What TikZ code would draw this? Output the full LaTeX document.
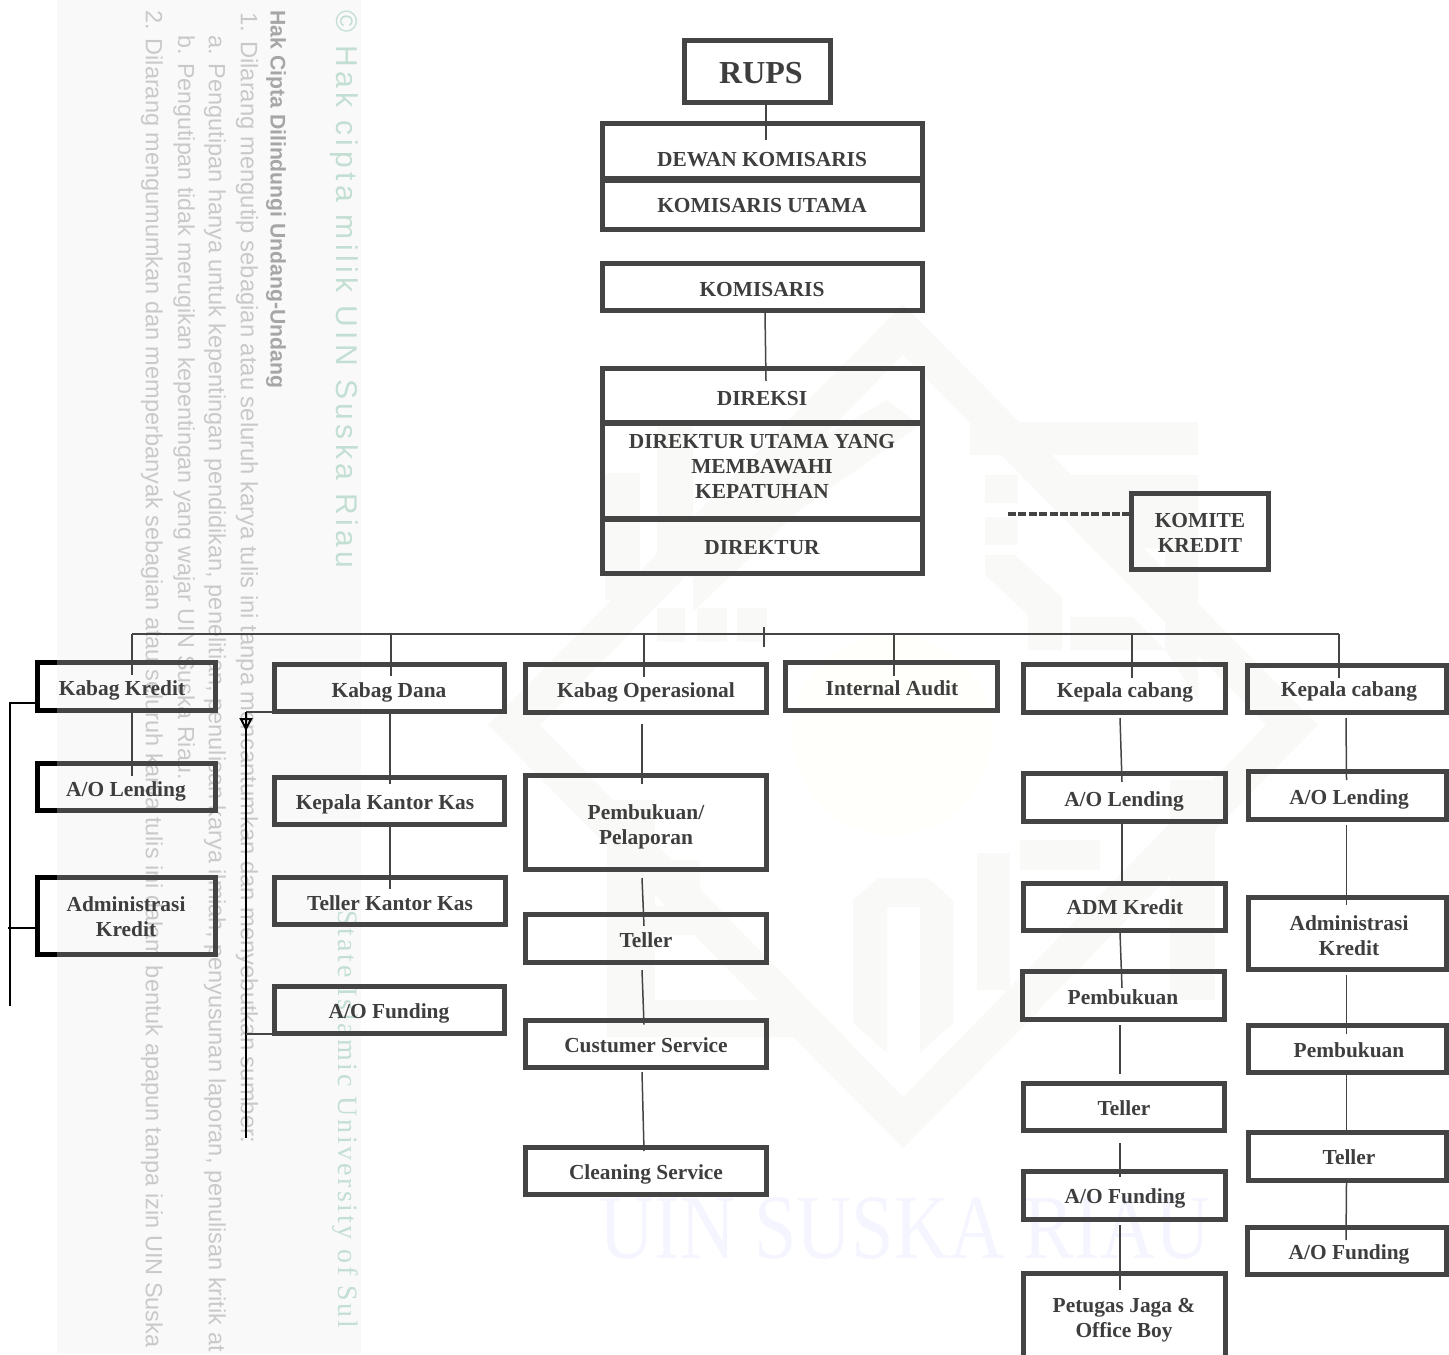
\documentclass[tikz,border=0pt]{standalone}
\usepackage{fontspec}
\setmainfont{Liberation Serif}
\newfontfamily\wmsans{Liberation Sans}
\newfontfamily\wmspaced[LetterSpace=15]{Liberation Sans}
\newfontfamily\wmserif[LetterSpace=10]{Liberation Serif}
\usetikzlibrary{arrows.meta}
\definecolor{ink}{HTML}{444444}
\definecolor{txt}{HTML}{3E3E3E}
\definecolor{panelc}{HTML}{F9F9F9}
\definecolor{logoc}{HTML}{F9F9F7}
\definecolor{wmgray}{HTML}{C9C9C9}
\definecolor{wmgreen}{HTML}{C3DFD3}
\tikzset{
  boxst/.style={draw=ink,line width=2.5pt,inner sep=0pt,outer sep=0pt,text=txt,
    font=\fontsize{10.7}{12.5}\selectfont\bfseries,line join=miter},
  conn/.style={draw=ink,line width=0.75pt},
  bracket/.style={draw=black,line width=1pt},
  edge black/.style={draw=black,line width=2.5pt,line join=miter},
  wmline/.style={rotate=-90,anchor=west,inner sep=0pt,text=wmgray,font=\fontsize{11.75}{13}\selectfont\wmsans},
  logo/.style={fill=logoc,draw=none}
}
\newcommand{\bx}[8]{%
  \pgfmathsetmacro{\bxw}{(#4-#2-5)*0.5}%
  \pgfmathsetmacro{\bxh}{(#5-#3-5)*0.5}%
  \pgfmathsetmacro{\bxcx}{(#2+#4)/2}%
  \pgfmathsetmacro{\bxcy}{(#3+#5)/2}%
  \pgfmathsetmacro{\bxdx}{#6-\bxcx}%
  \pgfmathsetmacro{\bxr}{(\bxcy-#7)*0.5-4.1}%
  \node[boxst,minimum width=\bxw pt,minimum height=\bxh pt] (#1) at (\bxcx,\bxcy)
    {\hspace*{\bxdx pt}\raisebox{\bxr pt}[0pt][0pt]{\begin{tabular}{@{}c@{}}#8\end{tabular}}};}
\newcommand{\cn}[6]{\draw[conn] ([shift={(#2,#3)}]#1) -- ([shift={(#5,#6)}]#4);}
\begin{document}
\begin{tikzpicture}[x=0.5pt,y=-0.5pt]
\useasboundingbox (0,0) rectangle (1449,1354);
\clip (0,0) rectangle (1449,1354);
% logo watermark
\fill[logo,even odd rule] (903,304) -- (1318,725) -- (903,1148) -- (488,725) -- cycle
  (903,355) -- (1266,725) -- (903,1097) -- (540,725) -- cycle;
\fill[logo] (970,422) rectangle (1198,455);
\fill[logo] (1052,475) -- (1198,475) -- (1198,700) -- (1165,650) -- (1165,548) -- (1100,548) -- (1052,500) -- cycle;
\fill[logo] (985,475) rectangle (1018,503);
\fill[logo] (985,517) rectangle (1018,545);
\fill[logo] (985,555) -- (1015,555) -- (1062,597) -- (1062,650) -- (1028,650) -- (1028,615) -- (985,575) -- cycle;
\fill[logo] (1070,617) -- (1133,617) -- (1165,650) -- (1070,650) -- cycle;
\fill[logo] (657,427) rectangle (693,577);
\fill[logo] (605,473) rectangle (640,600);
\fill[logo] (693,560) -- (800,450) -- (887,400) -- (920,425) -- (800,510) -- (693,612) -- cycle;
\fill[logo] (657,608) rectangle (685,642);
\fill[logo] (697,608) rectangle (727,642);
\fill[logo] (737,608) rectangle (767,642);
\fill[logo] (607,800) rectangle (655,1000);
\fill[logo] (655,860) rectangle (700,890);
\fill[logo] (655,906) rectangle (700,935);
\fill[logo] (607,1000) -- (795,1000) -- (835,1037) -- (793,1037) -- (607,1037) -- cycle;
\fill[logo] (793,1037) -- (903,1148) -- (1040,1010) -- (1000,1000) -- (903,1097) -- (835,1037) -- cycle;
\fill[logo] (853,900) -- (878,878) -- (928,878) -- (953,900) -- (953,1023) -- (920,1053) -- (920,907) -- (887,907) -- (887,1053) -- (853,1023) -- cycle;
\fill[logo] (977,853) rectangle (1010,990);
\fill[logo] (1020,840) -- (1100,840) -- (1100,870) -- (1020,870) -- cycle;
\fill[logo] (1170,780) rectangle (1215,1000);
\fill[fill=yellow!1.5] (892,735) circle (100);
\node[inner sep=0pt,text=blue!4,font=\fontsize{46}{50}\selectfont] (wmuin) at (905,1228) {\scalebox{.83}[1]{UIN SUSKA RIAU}};
% side panel
\fill[panelc] (57,0) rectangle (361,1354);
\node[wmline,text=wmgreen,font=\fontsize{15}{17}\selectfont\wmspaced] (wm0) at (344,10) {© Hak cipta milik UIN Suska Riau};
\node[wmline,text=wmgreen,font=\fontsize{14}{16}\selectfont\wmserif] (wm6) at (345,910) {State Islamic University of Sul};
\node[wmline,text=black!35,font=\fontsize{10.6}{12}\selectfont\wmsans\bfseries] (wm1) at (276,10) {Hak Cipta Dilindungi Undang-Undang};
\node[wmline,font=\fontsize{11.9}{13}\selectfont\wmsans] (wm2) at (247,12) {1. Dilarang mengutip sebagian atau seluruh karya tulis ini tanpa mencantumkan dan menyebutkan sumber:};
\node[wmline] (wm3) at (215,35) {a. Pengutipan hanya untuk kepentingan pendidikan, penelitian, penulisan karya ilmiah, penyusunan laporan, penulisan kritik at};
\node[wmline,font=\fontsize{11.6}{13}\selectfont\wmsans] (wm4) at (184,35) {b. Pengutipan tidak merugikan kepentingan yang wajar UIN Suska Riau.};
\node[wmline] (wm5) at (152,10) {2. Dilarang mengumumkan dan memperbanyak sebagian atau seluruh karya tulis ini dalam bentuk apapun tanpa izin UIN Suska};
% upper boxes
\bx{rups}{682}{38}{833}{105}{761}{74}{\fontsize{16}{18}\selectfont RUPS}
\bx{dewan}{600}{121}{925}{181}{762}{159}{DEWAN KOMISARIS}
\bx{kutama}{600}{178}{925}{232}{762}{205}{KOMISARIS UTAMA}
\bx{komis}{600}{261}{925}{313}{762}{289}{KOMISARIS}
\bx{direksi}{600}{366}{925}{425}{762}{398}{DIREKSI}
\bx{dirut}{600}{421}{925}{521}{762}{466}{DIREKTUR UTAMA YANG\\MEMBAWAHI\\KEPATUHAN}
\bx{direktur}{600}{517}{925}{576}{762}{547}{DIREKTUR}
\bx{komite}{1129}{491}{1271}{572}{1200}{532}{KOMITE\\KREDIT}
% left column
\bx{kredit}{35}{660}{218}{713}{122}{688}{Kabag Kredit}
\bx{lendL}{35}{761}{218}{813}{126}{789}{A/O Lending}
\bx{admL}{35}{875}{218}{957}{126}{916}{Administrasi\\Kredit}
% dana column
\bx{dana}{272}{662}{507}{714}{389}{690}{Kabag Dana}
\bx{kantor}{272}{775}{507}{827}{385}{802}{Kepala Kantor Kas}
\bx{tkk}{272}{875}{508}{927}{390}{903}{Teller Kantor Kas}
\bx{fundD}{272}{984}{507}{1036}{389}{1011}{A/O Funding}
% operasional column
\bx{oper}{523}{662}{769}{715}{646}{690}{Kabag Operasional}
\bx{pemO}{523}{773}{769}{872}{646}{824}{Pembukuan/\\Pelaporan}
\bx{telO}{523}{912}{769}{965}{646}{940}{Teller}
\bx{cust}{523}{1018}{769}{1070}{646}{1045}{Custumer Service}
\bx{clean}{523}{1145}{769}{1197}{646}{1172}{Cleaning Service}
% audit
\bx{audit}{783}{660}{1000}{713}{892}{688}{Internal Audit}
% cabang 1
\bx{kcA}{1021}{662}{1228}{715}{1125}{690}{Kepala cabang}
\bx{lendA}{1021}{771}{1228}{824}{1124}{799}{A/O Lending}
\bx{admA}{1021}{881}{1228}{933}{1125}{907}{ADM Kredit}
\bx{pemA}{1020}{969}{1227}{1022}{1123}{997}{Pembukuan}
\bx{telA}{1021}{1081}{1227}{1133}{1124}{1108}{Teller}
\bx{fundA}{1021}{1169}{1228}{1222}{1125}{1196}{A/O Funding}
\bx{petugas}{1021}{1271}{1228}{1361}{1124}{1317}{Petugas Jaga \&\\Office Boy}
% cabang 2
\bx{kcB}{1245}{663}{1449}{715}{1349}{689}{Kepala cabang}
\bx{lendB}{1246}{769}{1449}{822}{1349}{797}{A/O Lending}
\bx{admB}{1246}{895}{1449}{972}{1349}{935}{Administrasi\\Kredit}
\bx{pemB}{1246}{1023}{1449}{1075}{1349}{1050}{Pembukuan}
\bx{telB}{1246}{1130}{1449}{1183}{1349}{1157}{Teller}
\bx{fundB}{1245}{1225}{1449}{1277}{1349}{1252}{A/O Funding}
% black parts of left boxes outside the panel
\draw[edge black] ([shift={(19.5,0)}]kredit.north west) -- (kredit.north west) -- (kredit.south west) -- ([shift={(19.5,0)}]kredit.south west);
\draw[edge black] ([shift={(19.5,0)}]lendL.north west) -- (lendL.north west) -- (lendL.south west) -- ([shift={(19.5,0)}]lendL.south west);
\draw[edge black] ([shift={(19.5,0)}]admL.north west) -- (admL.north west) -- (admL.south west) -- ([shift={(19.5,0)}]admL.south west);
% connectors upper
\cn{rups.south}{8.5}{2.5}{dewan.north}{3.5}{16.5}
\cn{komis.south}{2.5}{2.5}{direksi.north}{3.5}{12.5}
\coordinate (dashend) at (1008,514);
\draw[draw=ink,line width=1.75pt,dash pattern=on 4pt off 1.2pt] (dashend) -- ([shift={(-2.5,-17.5)}]komite.west);
% bus
\coordinate (busL) at (132,634);
\coordinate (busR) at (1339,634);
\coordinate (busA) at (391,634);
\coordinate (busB) at (644,634);
\coordinate (busD) at (894,634);
\coordinate (busE) at (1132,634);
\coordinate (tickT) at (764,627);
\coordinate (tickB) at (764,647);
\draw[conn] (busL) -- (busR);
\draw[conn] (tickT) -- (tickB);
\draw[conn] (busL) -- ([shift={(5.5,12.5)}]kredit.north);
\draw[conn] (busA) -- ([shift={(1.5,11.5)}]dana.north);
\draw[conn] (busB) -- ([shift={(-2,12.5)}]oper.north);
\draw[conn] (busD) -- ([shift={(2.5,13.5)}]audit.north);
\draw[conn] (busE) -- ([shift={(7.5,13.5)}]kcA.north);
\draw[conn] (busR) -- ([shift={(-8,12.5)}]kcB.north);
% columns
\cn{kredit.south}{5.5}{2.5}{lendL.north}{5.5}{12.5}
\cn{dana.south}{.5}{2.5}{kantor.north}{.5}{6.5}
\cn{kantor.south}{.5}{2.5}{tkk.north}{0}{11.5}
\cn{oper.south}{-4}{11.5}{pemO.north}{-4}{8.5}
\cn{pemO.south}{-4}{8.5}{telO.north}{-2}{11.5}
\cn{telO.south}{-4}{7.5}{cust.north}{-2}{4}
\cn{cust.south}{-4}{4.5}{clean.north}{-2}{3.5}
\cn{kcA.south}{-4.5}{5.5}{lendA.north}{-2.5}{8.5}
\cn{lendA.south}{-2.5}{2.5}{admA.north}{-2.5}{0}
\cn{admA.south}{-4.5}{2.5}{pemA.north}{-1.5}{16.5}
\cn{pemA.south}{-3.5}{5.5}{telA.north}{-4}{-9.5}
\cn{telA.south}{-4}{12.5}{fundA.north}{-4.5}{5.5}
\cn{fundA.south}{-4.5}{5.5}{petugas.north}{-4.5}{16.5}
\cn{kcB.south}{-1}{5.5}{lendB.north}{-1}{8.5}
\cn{lendB.south}{-1}{5.5}{admB.north}{-1}{7.5}
\cn{admB.south}{-1}{5.5}{pemB.north}{-1}{8.5}
\cn{pemB.south}{-1}{2.5}{telB.north}{-1}{0}
\cn{telB.south}{-1}{2.5}{fundB.north}{-1}{12.5}
% brackets
\coordinate (brT) at (10,703);
\coordinate (brB) at (10,1006);
\coordinate (brA) at (8,928);
\draw[bracket] (brB) -- (brT) -- ([shift={(-2.5,16.5)}]kredit.west);
\draw[bracket] (brA) -- ([shift={(-2.5,12)}]admL.west);
\coordinate (drT) at (246,712);
\coordinate (drB) at (246,1138);
\coordinate (drM) at (246,1034);
\coordinate (drA) at (246,731);
\draw[bracket] (drB) -- (drT);
\draw[conn] (drT) -- ([shift={(-2.5,24)}]dana.west);
\draw[conn] (drM) -- ([shift={(-2.5,24)}]fundD.west);
\draw[bracket,-{Triangle[open,length=6.5pt,width=6.5pt]}] (drT) -- (drA);
\end{tikzpicture}
\end{document}
